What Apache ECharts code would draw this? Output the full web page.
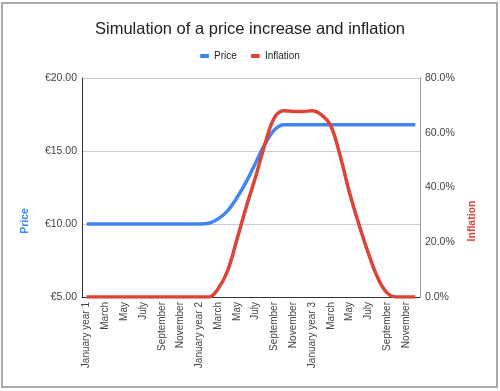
<!DOCTYPE html>
<html>
<head>
<meta charset="utf-8">
<script src="https://cdn.jsdelivr.net/npm/echarts@6/dist/echarts.min.js"></script>
<style>
  html, body { margin: 0; padding: 0; background: #fff; }
  #chart { width: 500px; height: 391px; }
</style>
</head>
<body>
<div id="chart"></div>
<script>
const months = ['January', 'February', 'March', 'April', 'May', 'June', 'July', 'August', 'September', 'October', 'November', 'December'];
const categories = [];
for (let y = 1; y <= 3; y++) {
  months.forEach((m, i) => categories.push(i === 0 ? m + ' year ' + y : m));
}
const priceValues = [
  10.0, 10.0, 10.0, 10.0, 10.0, 10.0, 10.0, 10.0, 10.0, 10.0, 10.0, 10.0,
  10.0, 10.05, 10.35, 10.9, 11.8, 12.9, 14.2, 15.5, 16.45, 16.8, 16.8, 16.8,
  16.8, 16.8, 16.8, 16.8, 16.8, 16.8, 16.8, 16.8, 16.8, 16.8, 16.8, 16.8
];
const inflationValues = [
  0, 0, 0, 0, 0, 0, 0, 0, 0, 0, 0, 0,
  0, 0, 3, 9.5, 21, 33, 44, 56, 65.5, 68, 67.8, 67.8,
  68, 66.5, 62.5, 51.5, 38, 26.5, 16, 7, 1.5, 0, 0, 0
];
const priceTicks = [5, 10, 15, 20];
const inflationTicks = [0, 20, 40, 60, 80];

const FONT = '"Liberation Sans", Arial, sans-serif';
const BLUE = '#4285f4';
const RED = '#db4437';

const chart = echarts.init(document.getElementById('chart'));
chart.setOption({
  animation: false,
  textStyle: { fontFamily: FONT },
  title: {
    text: 'Simulation of a price increase and inflation',
    left: 'center',
    top: 16,
    textStyle: { fontSize: 16.5, fontWeight: 'normal', color: '#222', fontFamily: FONT }
  },
  legend: {
    top: 46,
    left: 'center',
    icon: 'roundRect',
    itemWidth: 9,
    itemHeight: 4,
    itemGap: 14,
    textStyle: { fontSize: 10, color: '#222', fontFamily: FONT },
    data: ['Price', 'Inflation']
  },
  grid: { left: 82, right: 80, top: 78, bottom: 94 },
  xAxis: {
    type: 'category',
    data: categories,
    boundaryGap: true,
    axisLine: { show: true, lineStyle: { color: '#333' } },
    axisTick: { show: false },
    axisLabel: {
      interval: 1,
      rotate: 90,
      margin: 5,
      fontSize: 10,
      color: '#444',
      fontFamily: FONT
    },
    splitLine: { show: false }
  },
  yAxis: [
    {
      type: 'value',
      min: priceTicks[0],
      max: priceTicks[priceTicks.length - 1],
      interval: 5,
      position: 'left',
      axisLine: { show: true, lineStyle: { color: '#333' } },
      axisTick: { show: false },
      axisLabel: {
        margin: 5,
        fontSize: 10.5,
        color: '#444',
        fontFamily: FONT,
        formatter: v => '€' + v.toFixed(2)
      },
      splitLine: { show: true, lineStyle: { color: '#ccc' } }
    },
    {
      type: 'value',
      min: inflationTicks[0],
      max: inflationTicks[inflationTicks.length - 1],
      interval: 20,
      position: 'right',
      axisLine: { show: true, lineStyle: { color: '#999' } },
      axisTick: { show: false },
      axisLabel: {
        margin: 5,
        fontSize: 10.5,
        color: '#444',
        fontFamily: FONT,
        formatter: v => v.toFixed(1) + '%'
      },
      splitLine: { show: false }
    }
  ],
  graphic: [
    {
      type: 'rect',
      shape: { x: 2, y: 3, width: 495, height: 384 },
      style: { fill: 'none', stroke: '#aaa', lineWidth: 2 },
      silent: true
    },
    {
      type: 'text',
      x: 25, y: 221,
      rotation: Math.PI / 2,
      style: {
        text: 'Price',
        fill: BLUE,
        font: 'bold 10.5px ' + FONT,
        textAlign: 'center',
        textVerticalAlign: 'middle'
      }
    },
    {
      type: 'text',
      x: 472, y: 221,
      rotation: Math.PI / 2,
      style: {
        text: 'Inflation',
        fill: RED,
        font: 'bold 10.5px ' + FONT,
        textAlign: 'center',
        textVerticalAlign: 'middle'
      }
    }
  ],
  series: [
    {
      name: 'Price',
      type: 'line',
      yAxisIndex: 0,
      data: priceValues,
      smooth: 0.4,
      showSymbol: false,
      lineStyle: { color: BLUE, width: 3.5 },
      itemStyle: { color: BLUE },
      z: 3
    },
    {
      name: 'Inflation',
      type: 'line',
      yAxisIndex: 1,
      data: inflationValues,
      smooth: 0.4,
      showSymbol: false,
      lineStyle: { color: RED, width: 3.5 },
      itemStyle: { color: RED },
      z: 4
    }
  ]
});
</script>
</body>
</html>
